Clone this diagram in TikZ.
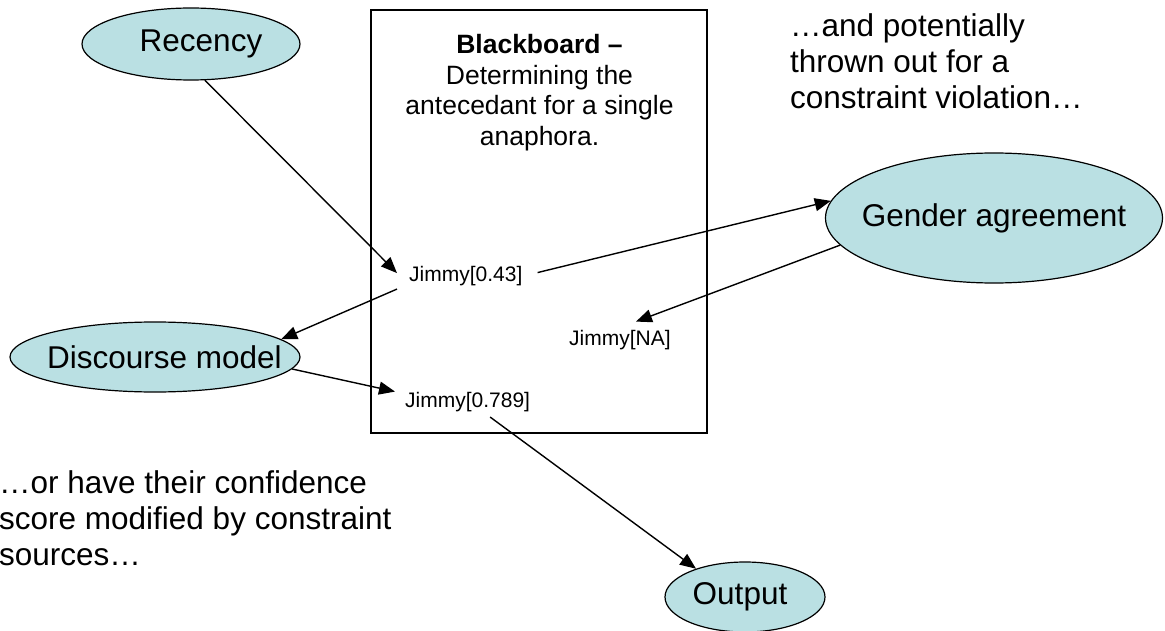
\documentclass[tikz,border=0pt]{standalone}
\usepackage{fontspec}
\setmainfont{Liberation Sans}
\usetikzlibrary{arrows.meta,shapes.geometric}
\definecolor{bubblefill}{RGB}{186,224,227}
\begin{document}
\begin{tikzpicture}[x=1pt,y=-1pt,
  bubble/.style={ellipse, draw=black, line width=1.2pt, fill=bubblefill, inner sep=0pt,
    font=\fontsize{31.5}{36}\selectfont},
  jim/.style={font=\fontsize{21}{24}\selectfont, inner xsep=12pt, inner ysep=0pt, anchor=base west},
  note/.style={font=\fontsize{31.5}{36}\selectfont, align=left, inner sep=0pt, anchor=north west},
  arr/.style={line width=1.4pt, -{Triangle[length=16pt,width=13pt]}}]
\useasboundingbox (0,0) rectangle (1165,631);
\clip (0,0) rectangle (1165,631);

% blackboard
\draw[line width=1.5pt] (371,10) rectangle (707,433);
\node[font=\fontsize{26.5}{30.5}\selectfont, align=center, inner sep=0pt, anchor=north] (title) at (539.5,34.5)
  {\textbf{Blackboard –}\\Determining the\\antecedant for a single\\anaphora.};

% sources
\node[bubble, minimum width=218pt, minimum height=72pt] (rec) at (191,44) {\makebox[0pt]{\raisebox{-2pt}{\hspace*{20pt}Recency}}};
\node[bubble, minimum width=337pt, minimum height=130pt] (gen) at (994,218) {\makebox[0pt]{Gender agreement}};
\node[bubble, minimum width=290pt, minimum height=70pt] (dis) at (155,357) {\makebox[0pt]{\hspace*{19pt}Discourse model}};
\node[bubble, minimum width=160pt, minimum height=70pt] (out) at (745,597) {\makebox[0pt]{Output\hspace*{10pt}}};

% blackboard entries
\node[jim] (j43) at (397,282) {Jimmy[0.43]};
\node[jim] (jNA) at (557,345) {Jimmy[NA]};
\node[jim, inner xsep=10pt] (j789) at (395,407) {Jimmy[0.789]};

% notes
\node[note] (n1) at (790,13) {…and potentially\\thrown out for a\\constraint violation…};
\node[note] (n2) at (-1,470) {…or have their confidence\\score modified by constraint\\sources…};

% connectors
\draw[arr] (rec.-69) -- ([yshift=3.5pt]j43.west);
\draw[arr] ([yshift=-12.5pt]j43.west) -- (dis.8);
\draw[arr] (dis.-5.5) -- (j789.north west);
\draw[arr] ([xshift=3pt,yshift=4pt]j43.east) -- (gen.174);
\draw[arr] (gen.190) -- ([xshift=16pt,yshift=8pt]jNA.north);
\draw[arr] ([xshift=22.5pt,yshift=-5.5pt]j789.south) -- (out.150);
\end{tikzpicture}
\end{document}
